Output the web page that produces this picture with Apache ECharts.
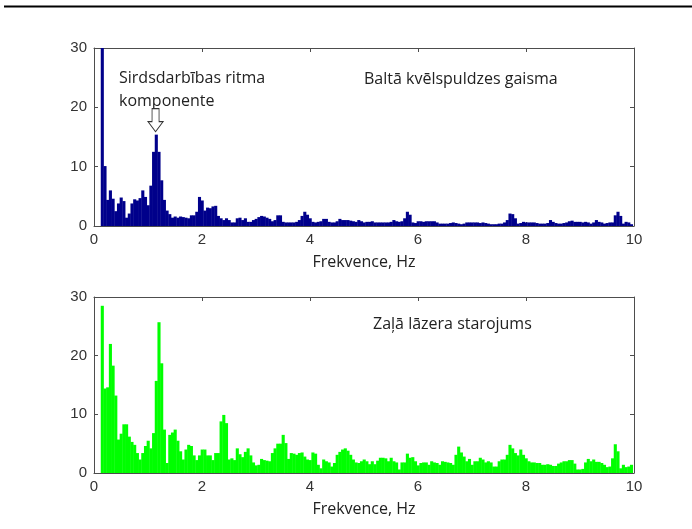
<!DOCTYPE html>
<html>
<head>
<meta charset="utf-8">
<title>Spektrs</title>
<script src="https://cdn.jsdelivr.net/npm/echarts@6.0.0/dist/echarts.min.js"></script>
<style>
  html, body { margin: 0; padding: 0; background: #fff; }
  #chart { width: 692px; height: 529px; }
</style>
</head>
<body>
<div id="chart"></div>
<script>
// Spectrum bins are 0.05 Hz wide, starting at 0 Hz
const binWidthHz = 0.05;

// Amplitude spectrum, white incandescent lamp light (first bin past 0.1 Hz exceeds the axis)
const whiteLight = [
  0, 0, 0, 34, 10.1, 4.4, 6.0, 4.6, 2.5, 3.8,
  4.8, 4.2, 1.4, 2.1, 3.8, 4.5, 4.3, 4.7, 6.0, 4.9,
  3.5, 6.8, 12.5, 15.4, 12.5, 7.7, 4.4, 2.6, 2.0, 1.4,
  1.6, 1.4, 1.6, 1.5, 1.4, 1.3, 1.8, 1.8, 2.4, 4.9,
  4.3, 2.6, 3.1, 3.0, 3.3, 3.4, 1.7, 1.3, 1.0, 1.3,
  1.0, 0.6, 0.6, 1.3, 1.4, 1.0, 1.3, 0.7, 0.7, 1.0,
  1.2, 1.5, 1.7, 1.6, 1.4, 1.2, 0.8, 1.0, 1.8, 1.8,
  0.7, 0.6, 0.6, 0.6, 0.6, 0.7, 1.0, 1.7, 2.4, 1.9,
  1.3, 0.7, 0.6, 0.7, 0.8, 1.2, 1.2, 0.7, 0.6, 0.6,
  0.8, 1.2, 1.0, 1.0, 1.0, 0.9, 0.8, 0.7, 1.0, 0.8,
  0.6, 0.7, 0.7, 0.8, 0.6, 0.6, 0.6, 0.6, 0.6, 0.6,
  0.7, 1.0, 0.8, 0.7, 0.8, 1.3, 2.4, 1.9, 0.6, 0.5,
  0.8, 0.8, 0.7, 0.8, 0.8, 0.8, 0.8, 0.6, 0.4, 0.4,
  0.4, 0.4, 0.5, 0.6, 0.5, 0.4, 0.3, 0.4, 0.6, 0.6,
  0.6, 0.6, 0.6, 0.5, 0.6, 0.5, 0.4, 0.3, 0.3, 0.3,
  0.4, 0.4, 0.6, 1.0, 2.1, 2.0, 1.3, 0.4, 0.5, 0.7,
  0.6, 0.6, 0.6, 0.6, 0.5, 0.4, 0.4, 0.4, 0.5, 1.0,
  0.7, 0.5, 0.4, 0.4, 0.5, 0.6, 0.8, 0.9, 0.7, 0.7,
  0.7, 0.6, 0.7, 0.6, 0.4, 0.6, 1.0, 0.7, 0.6, 0.4,
  0.5, 0.6, 0.6, 1.8, 2.4, 1.7, 0.4, 0.7, 0.6, 0.3
];

// Amplitude spectrum, green laser light
const greenLaser = [
  0, 0, 0, 28.5, 14.4, 14.6, 22.0, 18.3, 13.2, 5.7,
  6.7, 8.3, 8.3, 6.2, 5.3, 4.8, 3.4, 2.3, 3.4, 4.6,
  5.5, 4.2, 6.8, 15.7, 25.7, 18.7, 7.4, 1.7, 6.5, 6.9,
  7.4, 5.5, 3.7, 2.3, 4.0, 4.8, 4.6, 3.0, 2.2, 3.0,
  4.0, 4.0, 3.0, 3.0, 2.2, 3.4, 3.4, 8.8, 9.9, 8.5,
  2.3, 2.5, 2.2, 4.2, 3.2, 2.7, 3.6, 4.2, 3.0, 1.8,
  1.3, 1.4, 2.4, 2.2, 2.1, 2.0, 3.4, 4.2, 5.0, 5.0,
  6.5, 5.1, 2.4, 3.4, 3.3, 3.1, 3.4, 3.5, 2.8, 2.3,
  2.2, 3.5, 3.3, 1.4, 0.8, 2.3, 2.0, 1.8, 1.1, 1.7,
  3.1, 3.6, 4.0, 4.2, 3.8, 3.1, 2.3, 1.8, 1.7, 2.0,
  2.3, 2.0, 1.5, 2.0, 1.5, 2.1, 2.6, 2.6, 2.5, 2.0,
  2.6, 2.0, 1.8, 0.6, 1.8, 1.8, 3.3, 2.6, 2.7, 2.0,
  1.3, 1.7, 1.8, 1.8, 1.4, 2.0, 1.8, 1.7, 1.4, 2.0,
  1.9, 1.8, 1.7, 1.4, 3.1, 4.5, 3.5, 2.8, 2.0, 2.4,
  1.4, 2.0, 2.0, 2.6, 2.3, 1.8, 2.0, 1.8, 1.1, 1.1,
  2.0, 2.3, 2.3, 3.1, 4.8, 4.2, 3.4, 3.0, 4.0, 3.1,
  2.5, 2.0, 1.8, 1.8, 1.7, 1.7, 1.4, 1.4, 1.5, 1.4,
  1.2, 1.2, 1.6, 1.8, 2.0, 2.0, 2.2, 2.2, 1.6, 0.6,
  0.6, 0.7, 1.8, 2.4, 2.0, 2.3, 1.9, 1.9, 1.7, 1.4,
  1.0, 1.1, 2.5, 4.9, 3.7, 0.8, 1.4, 1.0, 1.1, 1.4
];

// Axis ranges and labels
const freqRange = [0, 10];
const freqStep = 2;
const ampRange = [0, 30];
const ampStep = 10;
const xAxisTitle = 'Frekvence, Hz';
const whiteTitle = 'Baltā kvēlspuldzes gaisma';
const greenTitle = 'Zaļā lāzera starojums';
const heartNote = ['Sirdsdarbības ritma', 'komponente'];
const heartPeakHz = 1.14;
const heartPeakAmp = 15.9;

const toPairs = vals => vals.map((v, i) => [i * binWidthHz, v]);

const frameColor = '#4d4d4d';
const tickFont = { color: '#333', fontSize: 15, fontFamily: '"Liberation Sans", Arial, sans-serif' };
const textFont = '16px "Open Sans", sans-serif';

function xAxes(gridIndex) {
  const base = {
    gridIndex, type: 'value', min: freqRange[0], max: freqRange[1], interval: freqStep,
    axisLine: { show: true, onZero: false, lineStyle: { color: frameColor, width: 1 } },
    axisTick: { show: true, inside: true, length: 4, lineStyle: { color: frameColor } },
    splitLine: { show: false }
  };
  return [
    Object.assign({}, base, {
      position: 'bottom',
      axisLabel: Object.assign({ margin: 6 }, tickFont),
      name: xAxisTitle, nameLocation: 'middle', nameGap: 28,
      nameTextStyle: { color: '#222', fontSize: 16, fontFamily: '"Open Sans", sans-serif' }
    }),
    Object.assign({}, base, { position: 'top', axisLabel: { show: false } })
  ];
}

function yAxes(gridIndex) {
  const base = {
    gridIndex, type: 'value', min: ampRange[0], max: ampRange[1], interval: ampStep,
    axisLine: { show: true, onZero: false, lineStyle: { color: frameColor, width: 1 } },
    axisTick: { show: true, inside: true, length: 4, lineStyle: { color: frameColor } },
    splitLine: { show: false }
  };
  return [
    Object.assign({}, base, { position: 'left', axisLabel: Object.assign({ margin: 7 }, tickFont) }),
    Object.assign({}, base, { position: 'right', axisLabel: { show: false } })
  ];
}

// Histogram-style bars: each bin fills its full 0.05 Hz width, clipped to the plot box
function binRenderer(color) {
  return function (params, api) {
    const f = api.value(0);
    const v = api.value(1);
    if (!(v > 0)) return null;
    const p0 = api.coord([f - binWidthHz / 2, 0]);
    const p1 = api.coord([f + binWidthHz / 2, v]);
    const cs = params.coordSys;
    const shape = echarts.graphic.clipRectByRect(
      { x: p0[0], y: p1[1], width: p1[0] - p0[0] + 0.4, height: p0[1] - p1[1] },
      { x: cs.x, y: cs.y, width: cs.width, height: cs.height }
    );
    return shape && { type: 'rect', shape, style: { fill: color } };
  };
}

const chart = echarts.init(document.getElementById('chart'), null, { renderer: 'canvas' });

chart.setOption({
  animation: false,
  backgroundColor: '#fff',
  grid: [
    { left: 94, top: 48, width: 540, height: 178 },
    { left: 94, top: 297, width: 540, height: 176 }
  ],
  xAxis: [...xAxes(0), ...xAxes(1)],
  yAxis: [...yAxes(0), ...yAxes(1)],
  series: [
    {
      type: 'custom', xAxisIndex: 0, yAxisIndex: 0, silent: true,
      data: toPairs(whiteLight), encode: { x: 0, y: 1 },
      renderItem: binRenderer('#00008B'),
      markPoint: {
        silent: true,
        data: [{
          coord: [heartPeakHz, heartPeakAmp],
          symbol: 'path://M4,0 L11,0 L11,13 L15,13 L7.5,23 L0,13 L4,13 Z',
          symbolSize: [15, 23],
          symbolOffset: [0, '-50%'],
          itemStyle: { color: '#fff', borderColor: '#333', borderWidth: 1 },
          label: { show: false }
        }]
      }
    },
    {
      type: 'custom', xAxisIndex: 2, yAxisIndex: 2, silent: true,
      data: toPairs(greenLaser), encode: { x: 0, y: 1 },
      renderItem: binRenderer('#00FF00')
    }
  ],
  graphic: [
    { type: 'line', shape: { x1: 4, y1: 6.5, x2: 692, y2: 6.5 }, style: { stroke: '#000', lineWidth: 2 } },
    { type: 'text', x: 119, y: 78, style: { text: heartNote[0], font: textFont, fill: '#222', verticalAlign: 'middle' } },
    { type: 'text', x: 119, y: 101, style: { text: heartNote[1], font: textFont, fill: '#222', verticalAlign: 'middle' } },
    { type: 'text', x: 364, y: 79, style: { text: whiteTitle, font: textFont, fill: '#222', verticalAlign: 'middle' } },
    { type: 'text', x: 373, y: 324, style: { text: greenTitle, font: textFont, fill: '#222', verticalAlign: 'middle' } }
  ]
});
</script>
</body>
</html>
